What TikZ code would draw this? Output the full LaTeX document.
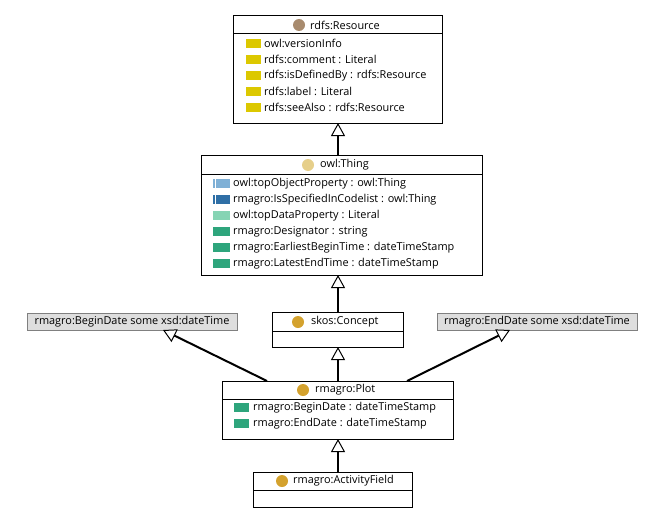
\documentclass[tikz,border=0pt]{standalone}
\usepackage{fontspec}
\setmainfont{Open Sans}
\usetikzlibrary{arrows.meta,calc}
\definecolor{cbrown}{HTML}{A88B6E}
\definecolor{cpale}{HTML}{E6CF8A}
\definecolor{cgold}{HTML}{D4A22E}
\definecolor{cyel}{HTML}{DCC800}
\definecolor{clblue}{HTML}{7FB0D6}
\definecolor{cdblue}{HTML}{2F6FA6}
\definecolor{clteal}{HTML}{86D4B4}
\definecolor{cteal}{HTML}{2EA57C}
\definecolor{cgrayfill}{HTML}{DEDEDE}
\definecolor{cgrayline}{HTML}{808080}
\begin{document}
\begin{tikzpicture}[x=1pt,y=-1pt,
  font=\fontsize{10.9}{12}\selectfont,
  classbox/.style={draw=black, line width=1pt, fill=white, inner sep=0pt},
  exprbox/.style={draw=cgrayline, line width=0.8pt, fill=cgrayfill, inner sep=0pt, minimum height=17pt},
  txt/.style={anchor=west, inner sep=0pt},
  inh/.style={line width=2pt, -{Triangle[open, length=13pt, width=14pt, line width=1pt, fill=white]}},
  sep/.style={line width=1pt}]
\useasboundingbox (0,0) rectangle (658,519);
\fill[white] (0,0) rectangle (658,519);

% ---------- rdfs:Resource
\node[classbox, minimum width=209pt, minimum height=107pt] (res) at (337.5,69.5) {};
\draw[sep] (233,34) -- (442,34);
\fill[cbrown] (299,25) circle (6);
\node[txt] (resH) at (310,25) {rdfs:Resource};
\foreach \t [count=\i from 0] in {owl:versionInfo, rdfs:comment : Literal, rdfs:isDefinedBy : rdfs:Resource, rdfs:label : Literal, rdfs:seeAlso : rdfs:Resource}{
  \fill[cyel] (246,{39+16*\i}) rectangle (261,{48+16*\i});
  \node[txt] (res\i) at (264,{43.5+16*\i}) {\t};
}

% ---------- owl:Thing
\node[classbox, minimum width=281pt, minimum height=120pt] (thing) at (341.5,215) {};
\draw[sep] (201,174) -- (482,174);
\fill[cpale] (308,165) circle (6);
\node[txt] (thingH) at (320,165) {owl:Thing};
% object properties
\fill[clblue] (213,179) rectangle (230,188);
\draw[white, line width=0.8pt] (215,179) -- (215,188);
\node[txt] (th0) at (233,183.5) {owl:topObjectProperty : owl:Thing};
\fill[cdblue] (213,195) rectangle (230,204);
\draw[white, line width=0.8pt] (215,195) -- (215,204);
\node[txt] (th1) at (233,199.5) {rmagro:IsSpecifiedInCodelist : owl:Thing};
\fill[clteal] (213,211) rectangle (230,220);
\node[txt] (th2) at (233,215.5) {owl:topDataProperty : Literal};
\fill[cteal] (213,227) rectangle (230,236);
\node[txt] (th3) at (233,231.5) {rmagro:Designator : string};
\fill[cteal] (213,243) rectangle (230,252);
\node[txt] (th4) at (233,247.5) {rmagro:EarliestBeginTime : dateTimeStamp};
\fill[cteal] (213,259) rectangle (230,268);
\node[txt] (th5) at (233,263.5) {rmagro:LatestEndTime : dateTimeStamp};

% ---------- skos:Concept
\node[classbox, minimum width=131pt, minimum height=35pt] (concept) at (337.5,329.5) {};
\draw[sep] (272,331) -- (403,331);
\fill[cgold] (298,322) circle (6);
\node[txt] (conceptH) at (311,322) {skos:Concept};

% ---------- restriction boxes
\node[exprbox, minimum width=210pt] (begin) at (132,321.5) {rmagro:BeginDate some xsd:dateTime};
\node[exprbox, minimum width=200pt] (end) at (537,321.5) {rmagro:EndDate some xsd:dateTime};

% ---------- rmagro:Plot
\node[classbox, minimum width=231pt, minimum height=58pt] (plot) at (337.5,410) {};
\draw[sep] (222,399) -- (453,399);
\fill[cgold] (303,390) circle (6);
\node[txt] (plotH) at (315,390) {rmagro:Plot};
\fill[cteal] (234,403) rectangle (249,412);
\node[txt] (pl0) at (253,407.5) {rmagro:BeginDate : dateTimeStamp};
\fill[cteal] (234,419) rectangle (249,428);
\node[txt] (pl1) at (253,423.5) {rmagro:EndDate : dateTimeStamp};

% ---------- rmagro:ActivityField
\node[classbox, minimum width=159pt, minimum height=35pt] (act) at (332.5,489.5) {};
\draw[sep] (253,490) -- (412,490);
\fill[cgold] (282,481) circle (6);
\node[txt] (actH) at (293,481) {rmagro:ActivityField};

% ---------- connectors
\coordinate (plotL) at (267,381);
\coordinate (plotR) at (407,381);
\coordinate (beginT) at (163,330);
\coordinate (endT) at (510,330);
\draw[inh] (338,155) -- (338,123);
\draw[inh] (338,312) -- (338,275);
\draw[inh] (338,381) -- (338,347);
\draw[inh] (338,472) -- (338,439);
\draw[inh] (plotL) -- (beginT);
\draw[inh] (plotR) -- (endT);
\end{tikzpicture}
\end{document}
